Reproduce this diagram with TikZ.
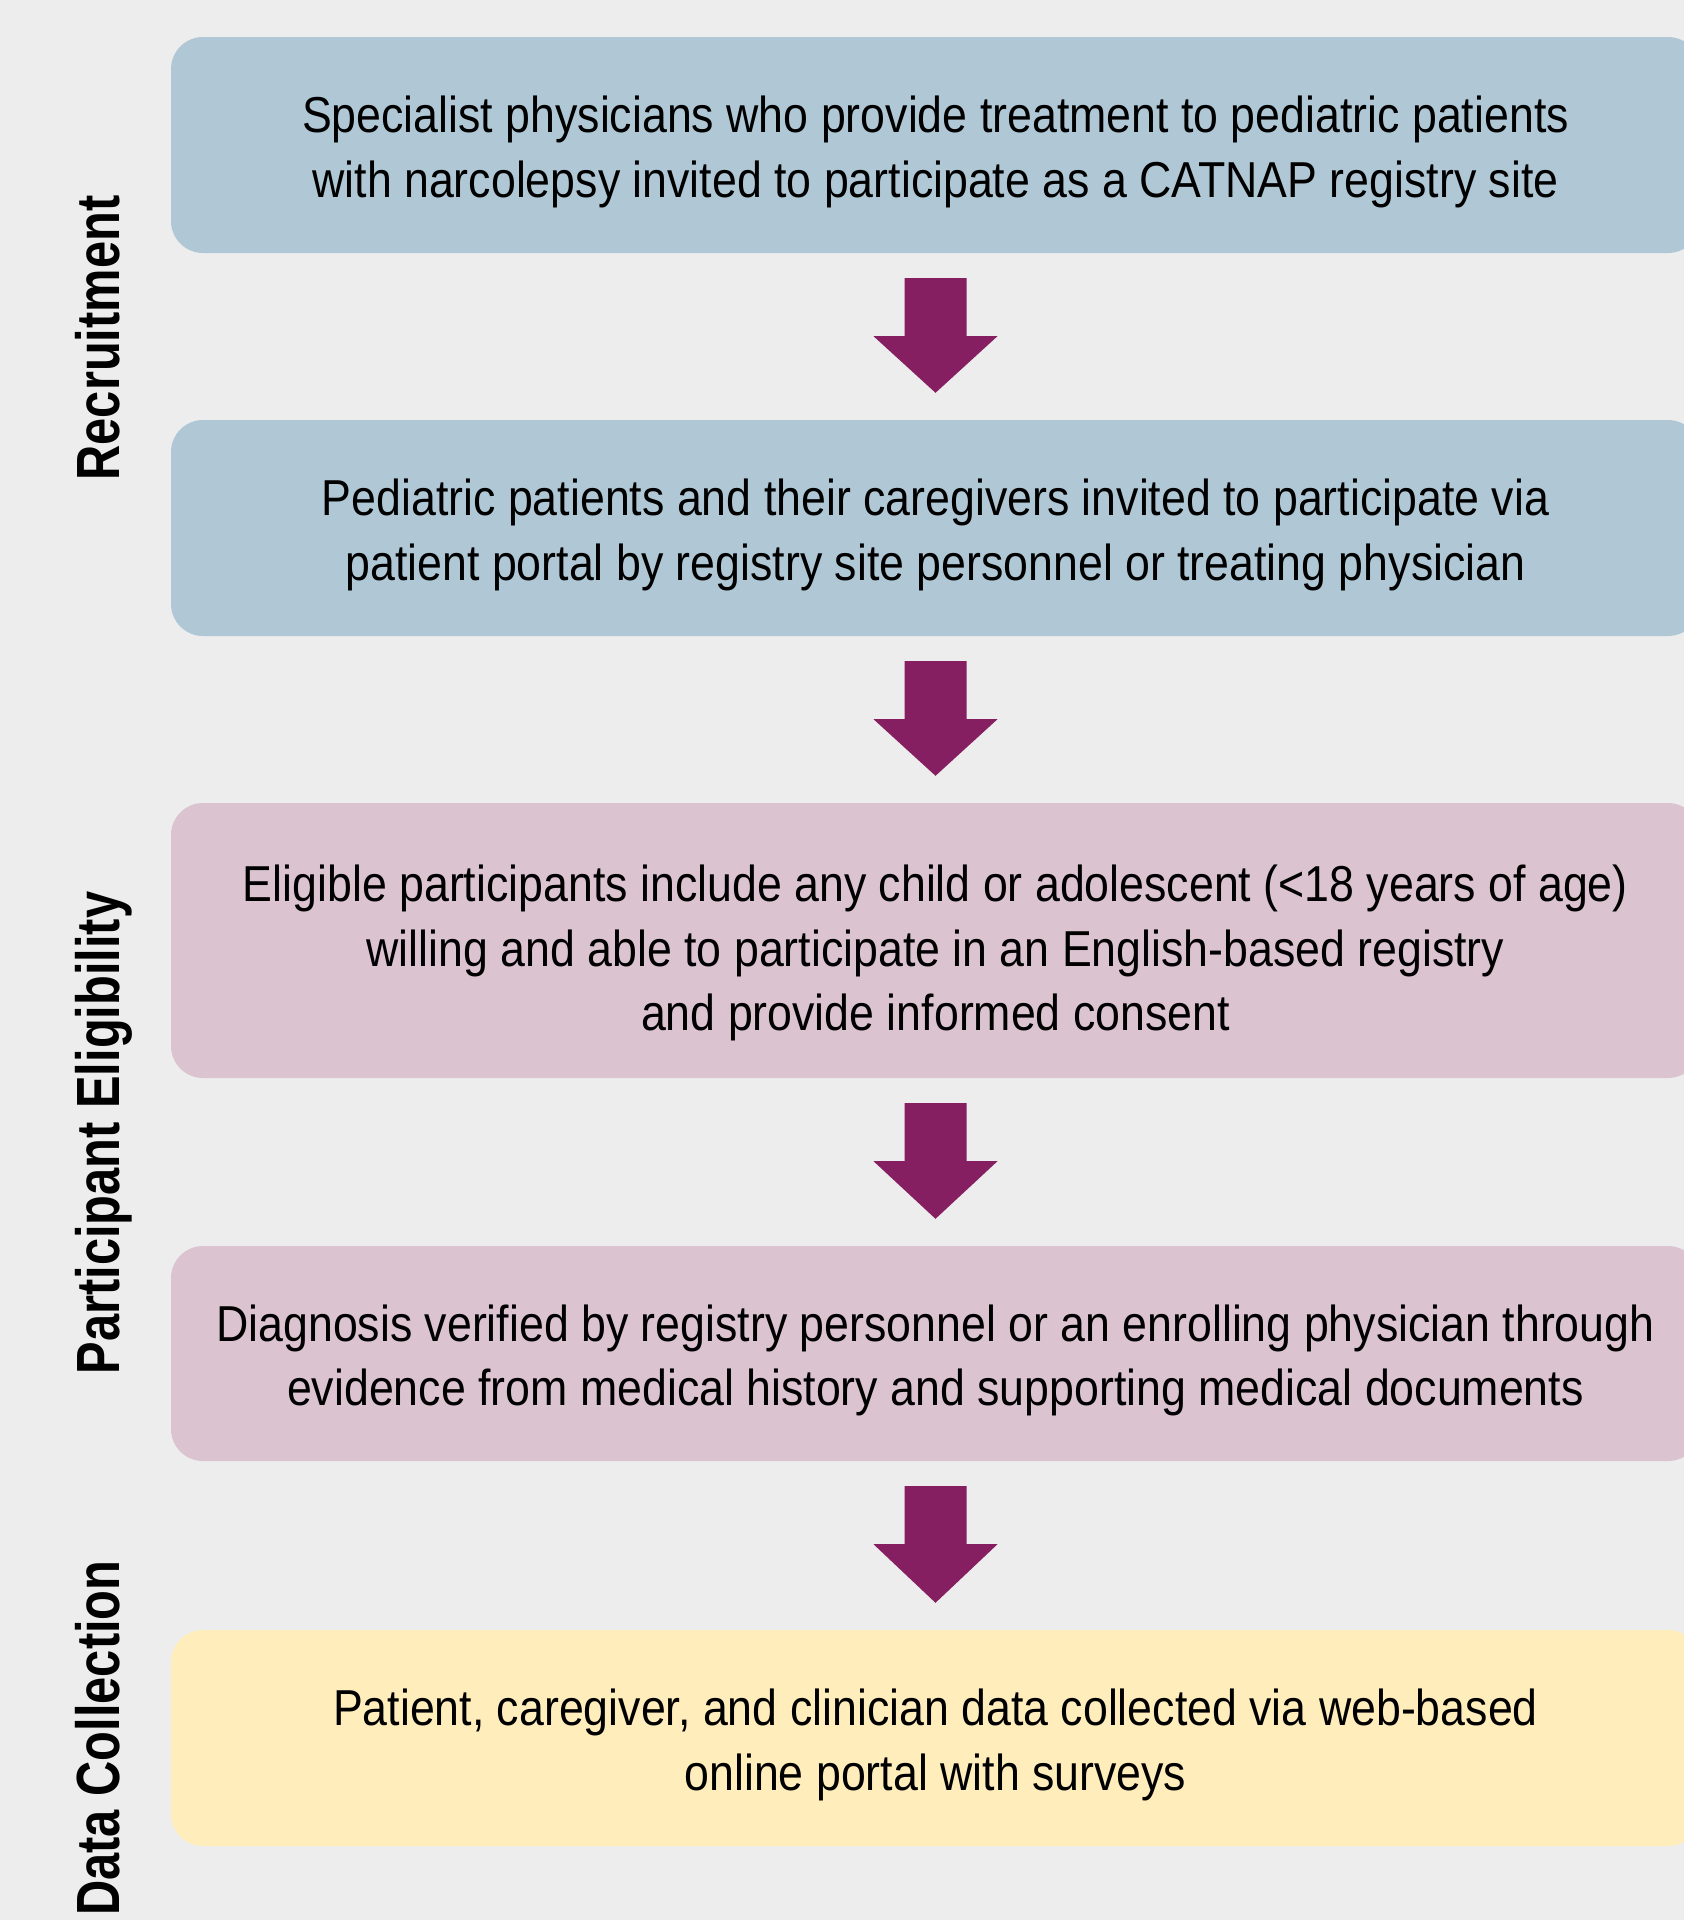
\documentclass[tikz,border=0pt]{standalone}
\usepackage{fontspec}
\setmainfont{Liberation Sans}[FakeStretch=0.885]
\newfontfamily\labfont{Liberation Sans}[FakeStretch=0.80]
\usetikzlibrary{calc}
\definecolor{bgc}{HTML}{EDEDED}
\definecolor{bluec}{HTML}{B0C8D6}
\definecolor{pinkc}{HTML}{DBC3D0}
\definecolor{yellc}{HTML}{FFEDBC}
\definecolor{purpc}{HTML}{861F62}
\newcommand\tstrut[1][50pt]{\rule{0pt}{#1}}
\newcommand\flowarrow[2]{%
  \fill[purpc] ($(#1.south)+(-31,-25)$) -- ($(#1.south)+(31,-25)$) -- ($(#1.south)+(31,-83)$)
  -- ($(#1.south)+(62,-83)$) -- ($(#2.north)+(0,27)$) -- ($(#1.south)+(-62,-83)$)
  -- ($(#1.south)+(-31,-83)$) -- cycle;}
\begin{document}
\begin{tikzpicture}[x=1pt,y=1pt,
  boxbase/.style={rounded corners=32pt, inner sep=0pt, minimum width=1529pt, align=center,
    font=\fontsize{50.5}{64.5}\selectfont, text=black},
  bluebox/.style={boxbase, fill=bluec},
  pinkbox/.style={boxbase, fill=pinkc},
  yellbox/.style={boxbase, fill=yellc},
  lab/.style={rotate=90, anchor=base, inner sep=0pt, font=\labfont\bfseries\fontsize{61}{70}\selectfont, text=black}]
\useasboundingbox (0,0) rectangle (1684,-1920);
\fill[bgc] (0,0) rectangle (1684,-1920);
\clip (0,0) rectangle (1684,-1920);
\node[bluebox, minimum height=216pt] (b1) at (935.5,-145)
  {\tstrut Specialist physicians who provide treatment to pediatric patients\\with narcolepsy invited to participate as a CATNAP registry site};
\node[bluebox, minimum height=216pt] (b2) at (935.5,-528)
  {\tstrut Pediatric patients and their caregivers invited to participate via\\patient portal by registry site personnel or treating physician};
\node[pinkbox, minimum height=275pt] (b3) at (935.5,-940.5)
  {\tstrut[62pt]Eligible participants include any child or adolescent (<18 years of age)\\willing and able to participate in an English-based registry\\and provide informed consent};
\node[pinkbox, minimum height=215pt] (b4) at (935.5,-1353.5)
  {\tstrut Diagnosis verified by registry personnel or an enrolling physician through\\evidence from medical history and supporting medical documents};
\node[yellbox, minimum height=216pt] (b5) at (935.5,-1738)
  {\tstrut Patient, caregiver, and clinician data collected via web-based\\online portal with surveys};
\flowarrow{b1}{b2}
\flowarrow{b2}{b3}
\flowarrow{b3}{b4}
\flowarrow{b4}{b5}
\node[lab] (l1) at (119,-338) {Recruitment};
\node[lab] (l2) at (119,-1133) {Participant Eligibility};
\node[lab] (l3) at (119,-1738) {Data Collection};
\end{tikzpicture}
\end{document}
